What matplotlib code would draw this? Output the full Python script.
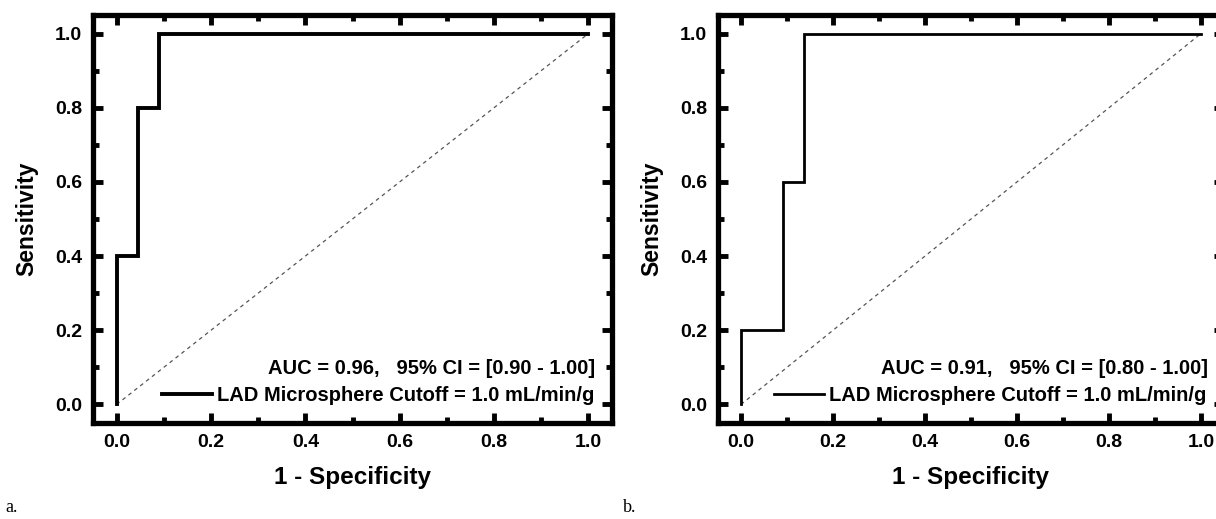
import matplotlib
matplotlib.use("Agg")
import matplotlib.pyplot as plt
from matplotlib.ticker import MultipleLocator

plt.rcParams['font.family'] = ['Liberation Sans', 'DejaVu Sans']
plt.rcParams['font.weight'] = 'bold'

# data
fpr_a = [0.0, 0.0, 1/22, 1/22, 2/22, 2/22, 1.0]
tpr_a = [0.0, 0.4, 0.4, 0.8, 0.8, 1.0, 1.0]
fpr_b = [0.0, 0.0, 2/22, 2/22, 3/22, 3/22, 1.0]
tpr_b = [0.0, 0.2, 0.2, 0.6, 0.6, 1.0, 1.0]
auc_text_a = "AUC = 0.96,   95% CI = [0.90 - 1.00]"
auc_text_b = "AUC = 0.91,   95% CI = [0.80 - 1.00]"
legend_label = "LAD Microsphere Cutoff = 1.0 mL/min/g"
ticks = [0.0, 0.2, 0.4, 0.6, 0.8, 1.0]
tick_labels = ["0.0", "0.2", "0.4", "0.6", "0.8", "1.0"]
panel_letters = ["a.", "b."]

W, H = 1216, 519
fig = plt.figure(figsize=(W/100, H/100), dpi=100)

def px_axes(l, r, t, b):
    return fig.add_axes([l/W, 1 - b/H, (r-l)/W, (b-t)/H])

axes = [px_axes(93, 612, 15, 423), px_axes(718, 1224, 15, 423)]
data = [(fpr_a, tpr_a, auc_text_a), (fpr_b, tpr_b, auc_text_b)]
lws = [2.8, 2.0]

for i, (ax, (fx, ty, auct)) in enumerate(zip(axes, data)):
    ax.plot([0, 1], [0, 1], color='#555555', lw=0.9, ls=(0, (3, 3)))
    ax.plot(fx, ty, color='black', lw=lws[i], label=legend_label,
            solid_joinstyle='miter')
    ax.set_xlim(-0.05, 1.05)
    ax.set_ylim(-0.05, 1.05)
    ax.set_xticks(ticks)
    ax.set_xticklabels(tick_labels)
    ax.set_yticks(ticks)
    ax.set_yticklabels(tick_labels)
    ax.xaxis.set_minor_locator(MultipleLocator(0.1))
    ax.yaxis.set_minor_locator(MultipleLocator(0.1))
    ax.tick_params(which='both', direction='in', top=True, right=True,
                   width=3.5, labelsize=14, pad=8)
    ax.tick_params(which='major', length=7)
    ax.tick_params(which='minor', length=4)
    for lab in ax.get_xticklabels() + ax.get_yticklabels():
        lab.set_fontweight('bold')
    for sp in ax.spines.values():
        sp.set_linewidth(3.8)
    ax.set_xlabel("1 - Specificity", fontsize=17.5, fontweight='bold', labelpad=11)
    ax.set_ylabel("Sensitivity", fontsize=16.5, fontweight='bold', labelpad=12)
    leg = ax.legend(loc='lower right', frameon=False, fontsize=14.5,
                    handlelength=2.5, handletextpad=0.25,
                    bbox_to_anchor=(0.99, 0.015), borderaxespad=0.2)
    for t in leg.get_texts():
        t.set_fontweight('bold')
    ax.text(0.968, 0.11, auct, transform=ax.transAxes, ha='right', va='bottom',
            fontsize=14.5, fontweight='bold')

fig.text(5/W, 1 - 512/H, panel_letters[0], fontsize=13, family='Liberation Serif',
         fontweight='normal', ha='left', va='baseline')
fig.text(623/W, 1 - 512/H, panel_letters[1], fontsize=13, family='Liberation Serif',
         fontweight='normal', ha='left', va='baseline')

fig.savefig("out.png", dpi=100)
